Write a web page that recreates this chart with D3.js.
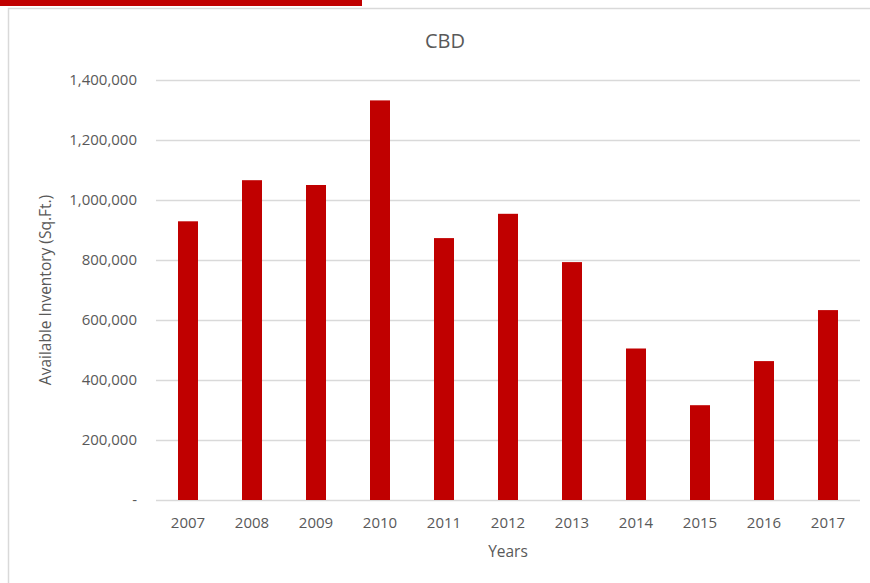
<!DOCTYPE html>
<html>
<head>
<meta charset="utf-8">
<script src="https://cdn.jsdelivr.net/npm/d3@7"></script>
<style>
  html, body { margin: 0; padding: 0; background: #fff; }
  svg { display: block; }
  text { font-family: "Open Sans", "Liberation Sans", sans-serif; fill: #595959; }
</style>
</head>
<body>
<svg id="chart" width="870" height="583"></svg>
<script>
const title = "CBD";
const xTitle = "Years";
const yTitle = "Available Inventory (Sq.Ft.)";
const years = ["2007","2008","2009","2010","2011","2012","2013","2014","2015","2016","2017"];
const inventory = [929000, 1066000, 1050000, 1332000, 873000, 954000, 793000, 505000, 316000, 463000, 633000];
const yTicks = [0, 200000, 400000, 600000, 800000, 1000000, 1200000, 1400000];

const svg = d3.select("#chart");

// top red accent and frame
svg.append("rect").attr("x", 0).attr("y", 0).attr("width", 362).attr("height", 6).attr("fill", "#c00000");
svg.append("rect").attr("x", 8.5).attr("y", 8.5).attr("width", 880).attr("height", 600)
  .attr("fill", "none").attr("stroke", "#d9d9d9").attr("stroke-width", 1.5);

const x = d3.scaleBand().domain(years).range([156, 860]).paddingInner(0.6875).paddingOuter(0.34375);
const y = d3.scaleLinear().domain([0, 1400000]).range([500, 80]);

const fmt = d3.format(",");
const yAxis = d3.axisLeft(y).tickValues(yTicks).tickSize(-(860 - 156)).tickPadding(19)
  .tickFormat(d => d === 0 ? "-" : fmt(d));
const gy = svg.append("g").attr("transform", "translate(156,0)").call(yAxis);
gy.select(".domain").remove();
gy.selectAll(".tick line").attr("stroke", "#d9d9d9").attr("stroke-width", 1.3);
gy.selectAll(".tick text").attr("font-size", 15).attr("fill", "#595959")
  .style("font-family", "'Open Sans', sans-serif");

svg.append("g").selectAll("rect").data(years).join("rect")
  .attr("x", d => x(d))
  .attr("width", x.bandwidth())
  .attr("y", (d, i) => y(inventory[i]))
  .attr("height", (d, i) => 500 - y(inventory[i]))
  .attr("fill", "#c00000");

const xAxis = d3.axisBottom(x).tickSize(0).tickPadding(17);
const gx = svg.append("g").attr("transform", "translate(0,500)").call(xAxis);
gx.select(".domain").remove();
gx.selectAll(".tick text").attr("font-size", 15).attr("fill", "#595959")
  .style("font-family", "'Open Sans', sans-serif");

svg.append("text").attr("x", 445).attr("y", 48).attr("text-anchor", "middle")
  .attr("font-size", 20).text(title);
svg.append("text").attr("x", 508).attr("y", 557).attr("text-anchor", "middle")
  .attr("font-size", 15.5).text(xTitle);
svg.append("text").attr("transform", "translate(51,290) rotate(-90)").attr("text-anchor", "middle")
  .attr("font-size", 15.5).text(yTitle);
</script>
</body>
</html>
